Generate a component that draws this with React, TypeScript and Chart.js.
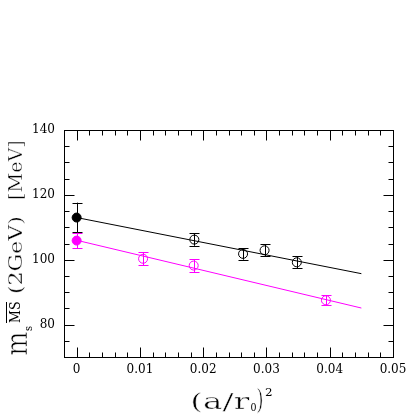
import React, { useEffect, useRef } from "react";
import { Chart, registerables } from "chart.js";

Chart.register(...registerables);

// ---- data ----
const xTickValues = [0, 0.01, 0.02, 0.03, 0.04, 0.05];
const yTickValues = [80, 100, 120, 140];

const blackX = [0.0186, 0.0263, 0.0297, 0.0348];
const blackY = [106.2, 101.8, 102.9, 99.2];
const blackErr = [1.9, 1.8, 1.9, 1.9];

const magentaX = [0.0105, 0.0185, 0.0394];
const magentaY = [100.3, 98.2, 87.5];
const magentaErr = [2.0, 2.0, 1.6];

const blackContX = [0];
const blackContY = [113.0];
const blackContErr = [4.6];

const magentaContX = [0];
const magentaContY = [105.9];
const magentaContErr = [2.4];

const fitX = [0, 0.045];
const blackFitY = [113.0, 95.7];
const magentaFitY = [106.0, 85.1];

const BLACK = "#000000";
const MAGENTA = "#ff00ff";
const FONT = "'DejaVu Serif', serif";

const pts = (xs: number[], ys: number[]) => xs.map((x, i) => ({ x, y: ys[i] }));

// draw text so its ink spans u0..u1 horizontally, baseline at v, and the
// ascent of refChar equals h
function drawBox(
  ctx: CanvasRenderingContext2D,
  text: string,
  u0: number,
  u1: number,
  v: number,
  h: number,
  refChar: string,
  font: string,
  thin: number
) {
  ctx.save();
  ctx.font = font;
  ctx.textAlign = "left";
  ctx.textBaseline = "alphabetic";
  const m = ctx.measureText(text);
  const inkW = m.actualBoundingBoxRight + m.actualBoundingBoxLeft;
  const sx = (u1 - u0) / inkW;
  const refA = ctx.measureText(refChar).actualBoundingBoxAscent;
  const sy = h / refA;
  ctx.translate(u0 + sx * m.actualBoundingBoxLeft, v);
  ctx.scale(sx, sy);
  ctx.fillStyle = BLACK;
  ctx.fillText(text, 0, 0);
  if (thin > 0) {
    ctx.strokeStyle = "#ffffff";
    ctx.lineWidth = thin / ((sx + sy) / 2);
    ctx.lineJoin = "round";
    ctx.strokeText(text, 0, 0);
  }
  ctx.restore();
}

const framePlugin = {
  id: "framePlugin",
  afterDatasetsDraw(chart: any) {
    const ctx: CanvasRenderingContext2D = chart.ctx;
    const { left, right, top, bottom } = chart.chartArea;
    const xs = chart.scales.x;
    const ys = chart.scales.y;

    // error bars
    ctx.save();
    ctx.lineWidth = 1;
    chart.data.datasets.forEach((ds: any) => {
      if (!ds.errors) return;
      ctx.strokeStyle = ds.borderColor;
      ds.data.forEach((p: any, i: number) => {
        const e = ds.errors[i];
        const px = Math.round(xs.getPixelForValue(p.x)) + 0.5;
        const y1 = ys.getPixelForValue(p.y + e);
        const y2 = ys.getPixelForValue(p.y - e);
        ctx.beginPath();
        ctx.moveTo(px, y1);
        ctx.lineTo(px, y2);
        ctx.moveTo(px - 5, Math.round(y1) + 0.5);
        ctx.lineTo(px + 5, Math.round(y1) + 0.5);
        ctx.moveTo(px - 5, Math.round(y2) + 0.5);
        ctx.lineTo(px + 5, Math.round(y2) + 0.5);
        ctx.stroke();
      });
    });
    ctx.restore();

    // frame
    ctx.save();
    ctx.strokeStyle = BLACK;
    ctx.lineWidth = 1;
    const L = Math.round(left) + 0.5, R = Math.round(right) + 0.5;
    const T = Math.round(top) + 0.5, B = Math.round(bottom) + 0.5;
    ctx.strokeRect(L, T, R - L, B - T);

    ctx.beginPath();
    // x ticks (bottom & top), minor every 0.002
    for (let k = -1; k <= 25; k++) {
      const v = k * 0.002;
      const px = Math.round(xs.getPixelForValue(v)) + 0.5;
      if (px < L || px > R) continue;
      const len = k % 5 === 0 ? 10 : 5;
      ctx.moveTo(px, B);
      ctx.lineTo(px, B - len);
      ctx.moveTo(px, T);
      ctx.lineTo(px, T + len);
    }
    // y ticks, minor every 5
    for (let k = 14; k <= 28; k++) {
      const v = k * 5;
      const py = Math.round(ys.getPixelForValue(v)) + 0.5;
      if (py < T - 0.1 || py > B + 0.1) continue;
      const len = v % 20 === 0 ? 10 : 5;
      ctx.moveTo(L, py);
      ctx.lineTo(L + len, py);
      ctx.moveTo(R, py);
      ctx.lineTo(R - len, py);
    }
    ctx.stroke();
    ctx.restore();

    // x title: (a/r0)^2
    drawBox(ctx, "(a/r", 191.7, 250, 408.5, 12.5, "x", `24px ${FONT}`, 0.6);
    drawBox(ctx, "0", 250.5, 256, 411, 9, "0", `12px ${FONT}`, 0);
    drawBox(ctx, ")", 257, 262.5, 408.5, 22, ")", `24px ${FONT}`, 0.6);
    drawBox(ctx, "2", 265, 271.5, 396, 7.5, "2", `11px ${FONT}`, 0);

    // y title, rotated: image (x, y) = (v, -u)
    ctx.save();
    ctx.rotate(-Math.PI / 2);
    drawBox(ctx, "m", -355, -332, 27, 16, "x", `30px ${FONT}`, 0.6);
    drawBox(ctx, "s", -331, -326, 32, 6, "x", `12px ${FONT}`, 0);
    drawBox(ctx, "MS", -323, -302, 20, 11, "M", `14px ${FONT}`, 0);
    ctx.strokeStyle = BLACK;
    ctx.lineWidth = 1;
    ctx.beginPath();
    ctx.moveTo(-323, 6.5);
    ctx.lineTo(-302, 6.5);
    ctx.stroke();
    drawBox(ctx, "(2GeV)", -293, -217, 21.5, 14.5, "M", `20px ${FONT}`, 0.4);
    drawBox(ctx, "[MeV]", -199, -141, 22, 14.5, "M", `20px ${FONT}`, 0.4);
    ctx.restore();
  },
};

export default function App() {
  const ref = useRef<HTMLCanvasElement | null>(null);

  useEffect(() => {
    document.body.style.margin = "0";
    const canvas = ref.current;
    if (!canvas) return;

    const chart = new Chart(canvas, {
      type: "scatter",
      data: {
        datasets: [
          {
            label: "black fit",
            data: pts(fitX, blackFitY),
            showLine: true,
            borderColor: BLACK,
            borderWidth: 1,
            pointRadius: 0,
            fill: false,
          },
          {
            label: "magenta fit",
            data: pts(fitX, magentaFitY),
            showLine: true,
            borderColor: MAGENTA,
            borderWidth: 1,
            pointRadius: 0,
            fill: false,
          },
          {
            label: "black",
            data: pts(blackX, blackY),
            errors: blackErr,
            borderColor: BLACK,
            backgroundColor: "rgba(0,0,0,0)",
            pointRadius: 4.5,
            borderWidth: 1,
          } as any,
          {
            label: "magenta",
            data: pts(magentaX, magentaY),
            errors: magentaErr,
            borderColor: MAGENTA,
            backgroundColor: "rgba(0,0,0,0)",
            pointRadius: 4.5,
            borderWidth: 1,
          } as any,
          {
            label: "black continuum",
            data: pts(blackContX, blackContY),
            errors: blackContErr,
            borderColor: BLACK,
            backgroundColor: BLACK,
            pointRadius: 4.5,
            borderWidth: 1,
          } as any,
          {
            label: "magenta continuum",
            data: pts(magentaContX, magentaContY),
            errors: magentaContErr,
            borderColor: MAGENTA,
            backgroundColor: MAGENTA,
            pointRadius: 4.5,
            borderWidth: 1,
          } as any,
        ],
      },
      options: {
        responsive: false,
        animation: false,
        events: [],
        layout: { padding: { left: 0, top: 130, right: 22, bottom: 0 } },
        plugins: {
          legend: { display: false },
          tooltip: { enabled: false },
        },
        scales: {
          x: {
            type: "linear",
            min: -0.002,
            max: 0.05,
            grid: { display: false, drawTicks: false },
            border: { display: false },
            afterBuildTicks: (s: any) => {
              s.ticks = xTickValues.map((v) => ({ value: v }));
            },
            afterFit: (s: any) => {
              s.height = 58;
            },
            ticks: {
              padding: 6,
              color: BLACK,
              font: { family: "DejaVu Serif", size: 12 },
              maxRotation: 0,
              autoSkip: false,
              callback: (v: any) => (v === 0 ? "0" : String(+Number(v).toFixed(3))),
            },
          },
          y: {
            type: "linear",
            min: 70,
            max: 140,
            grid: { display: false, drawTicks: false },
            border: { display: false },
            afterBuildTicks: (s: any) => {
              s.ticks = yTickValues.map((v) => ({ value: v }));
            },
            afterFit: (s: any) => {
              s.width = 64;
            },
            ticks: {
              padding: 9,
              color: BLACK,
              font: { family: "DejaVu Serif", size: 12 },
              autoSkip: false,
              callback: (v: any) => String(v),
            },
          },
        },
      },
      plugins: [framePlugin],
    });

    return () => chart.destroy();
  }, []);

  return (
    <div style={{ position: "absolute", left: 0, top: 0, width: 415, height: 415, background: "#fff" }}>
      <canvas ref={ref} width={415} height={415} style={{ display: "block", width: 415, height: 415 }} />
    </div>
  );
}
